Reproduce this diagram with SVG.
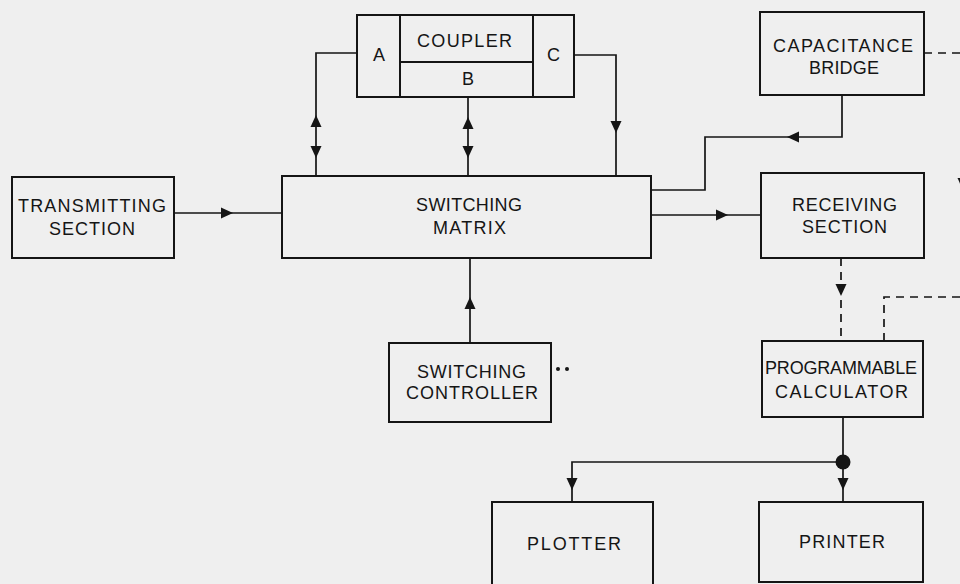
<svg xmlns="http://www.w3.org/2000/svg" xmlns:xlink="http://www.w3.org/1999/xlink" width="960" height="584" viewBox="0 0 960 584">
<style>
.bg{fill:#efefef}
.box{fill:none;stroke:#151515;stroke-width:2}
.ln{fill:none;stroke:#151515;stroke-width:1.7}
.dash{fill:none;stroke:#151515;stroke-width:1.7;stroke-dasharray:8,6}
.t{font-family:"Liberation Sans",Arial,sans-serif;font-size:18px;fill:#151515;text-anchor:start}
.ah{fill:#151515}
</style>
<defs>
<path id="ah" class="ah" d="M0,0 L-12,-5.5 L-12,5.5 Z"/>
</defs>
<rect class="bg" x="0" y="0" width="960" height="584"/>

<g id="transmitting">
<rect class="box" x="12" y="177" width="162" height="81"/>
<text class="t" x="18" y="212" textLength="148" lengthAdjust="spacing">TRANSMITTING</text>
<text class="t" x="49" y="235" textLength="86" lengthAdjust="spacing">SECTION</text>
</g>

<g id="matrix">
<rect class="box" x="282" y="176" width="369" height="82"/>
<text class="t" x="416" y="211" textLength="106" lengthAdjust="spacing">SWITCHING</text>
<text class="t" x="433" y="234" textLength="73" lengthAdjust="spacing">MATRIX</text>
</g>

<g id="coupler">
<rect class="box" x="357" y="15" width="217" height="82"/>
<line class="box" x1="400" y1="15" x2="400" y2="97"/>
<line class="box" x1="533" y1="15" x2="533" y2="97"/>
<line class="box" x1="400" y1="62" x2="533" y2="62"/>
<text class="t" x="417" y="47" textLength="95" lengthAdjust="spacing">COUPLER</text>
<text class="t" x="373" y="61">A</text>
<text class="t" x="547" y="61">C</text>
<text class="t" x="462" y="85">B</text>
</g>

<g id="bridge">
<rect class="box" x="760" y="12" width="164" height="83"/>
<text class="t" x="773" y="52" textLength="140" lengthAdjust="spacing">CAPACITANCE</text>
<text class="t" x="809" y="74" textLength="70" lengthAdjust="spacing">BRIDGE</text>
</g>

<g id="receiving">
<rect class="box" x="761" y="173" width="163" height="85"/>
<text class="t" x="792" y="211" textLength="105" lengthAdjust="spacing">RECEIVING</text>
<text class="t" x="802" y="233" textLength="85" lengthAdjust="spacing">SECTION</text>
</g>

<g id="controller">
<rect class="box" x="389" y="343" width="162" height="79"/>
<text class="t" x="417" y="378" textLength="109" lengthAdjust="spacing">SWITCHING</text>
<text class="t" x="406" y="399" textLength="132" lengthAdjust="spacing">CONTROLLER</text>
<circle cx="558" cy="369" r="2" class="ah"/>
<circle cx="567" cy="369" r="2" class="ah"/>
</g>

<g id="calculator">
<rect class="box" x="762" y="341" width="161" height="76"/>
<text class="t" x="765" y="374" textLength="152" lengthAdjust="spacing">PROGRAMMABLE</text>
<text class="t" x="775" y="398" textLength="133" lengthAdjust="spacing">CALCULATOR</text>
</g>

<g id="plotter">
<rect class="box" x="492" y="502" width="161" height="90"/>
<text class="t" x="527" y="550" textLength="94" lengthAdjust="spacing">PLOTTER</text>
</g>

<g id="printer">
<rect class="box" x="759" y="502" width="164" height="80"/>
<text class="t" x="799" y="548" textLength="86" lengthAdjust="spacing">PRINTER</text>
</g>

<g id="connectors">
<line class="ln" x1="174" y1="213" x2="282" y2="213"/>
<use xlink:href="#ah" transform="translate(233,213)"/>

<polyline class="ln" points="357,53 316,53 316,176"/>
<use xlink:href="#ah" transform="translate(316,115) rotate(-90)"/>
<use xlink:href="#ah" transform="translate(316,158) rotate(90)"/>

<line class="ln" x1="468" y1="97" x2="468" y2="176"/>
<use xlink:href="#ah" transform="translate(468,117) rotate(-90)"/>
<use xlink:href="#ah" transform="translate(468,158) rotate(90)"/>

<polyline class="ln" points="574,55 616,55 616,176"/>
<use xlink:href="#ah" transform="translate(616,133) rotate(90)"/>

<polyline class="ln" points="842,95 842,137 705,137 705,190 651,190"/>
<use xlink:href="#ah" transform="translate(787,137) rotate(180)"/>

<line class="ln" x1="651" y1="215" x2="761" y2="215"/>
<use xlink:href="#ah" transform="translate(728,215)"/>

<line class="dash" x1="924" y1="53" x2="960" y2="53"/>
<use xlink:href="#ah" transform="translate(963,190) rotate(90)"/>

<line class="dash" x1="841" y1="258" x2="841" y2="341"/>
<use xlink:href="#ah" transform="translate(841,296) rotate(90)"/>

<polyline class="dash" points="884,341 884,297 960,297"/>

<line class="ln" x1="470" y1="343" x2="470" y2="258"/>
<use xlink:href="#ah" transform="translate(470,297) rotate(-90)"/>

<line class="ln" x1="843" y1="417" x2="843" y2="502"/>
<polyline class="ln" points="843,462 572,462 572,502"/>
<circle class="ah" cx="843" cy="462" r="7.5"/>
<use xlink:href="#ah" transform="translate(572,490) rotate(90)"/>
<use xlink:href="#ah" transform="translate(843,490) rotate(90)"/>
</g>
</svg>
